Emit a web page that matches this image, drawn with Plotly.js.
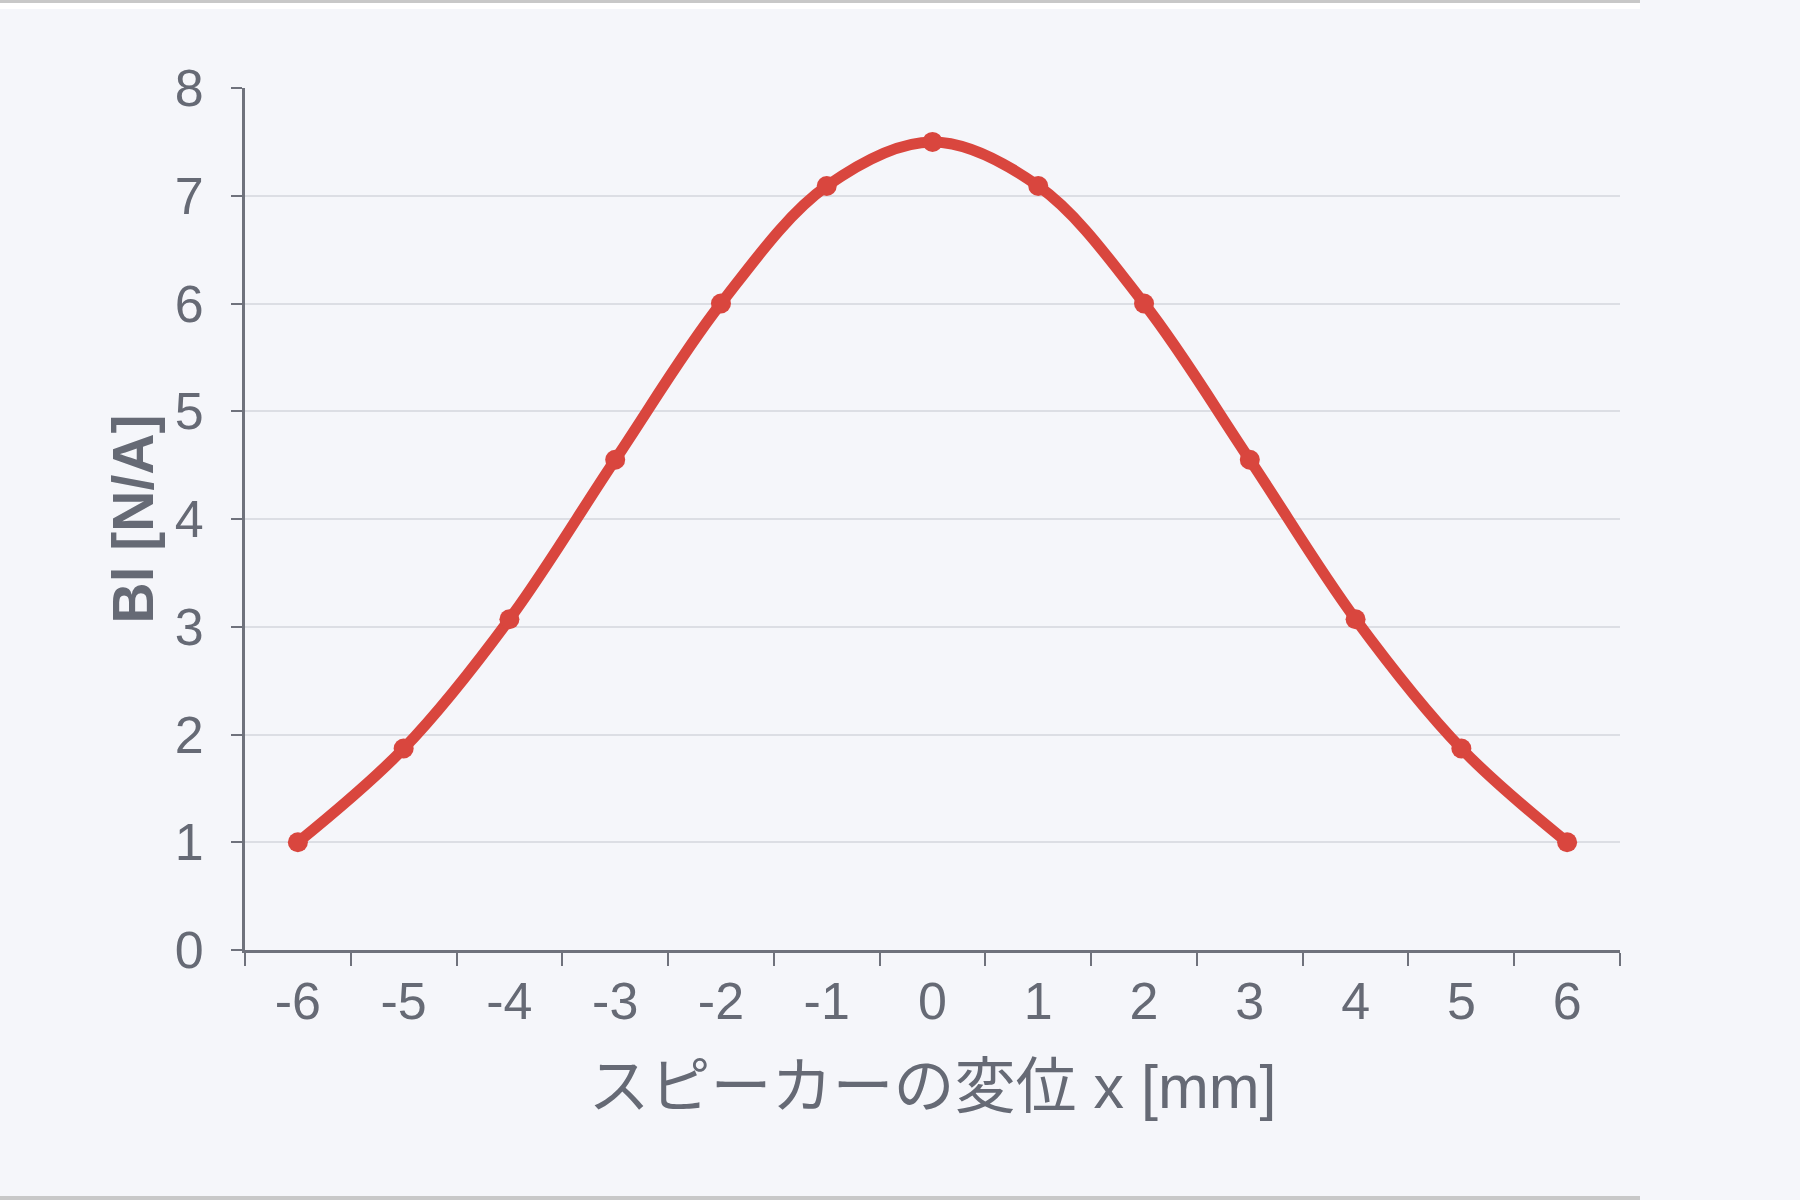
<!DOCTYPE html>
<html>
<head>
<meta charset="utf-8">
<script src="https://cdn.plot.ly/plotly-3.0.1.min.js"></script>
<style>
  html, body { margin: 0; padding: 0; background: #f5f6fa; }
  #chart { width: 1800px; height: 1200px; }
</style>
</head>
<body>
<div id="chart"></div>
<script>
const displacement = ['-6', '-5', '-4', '-3', '-2', '-1', '0', '1', '2', '3', '4', '5', '6'];
const blValues = [1.0, 1.87, 3.07, 4.55, 6.0, 7.09, 7.5, 7.09, 6.0, 4.55, 3.07, 1.87, 1.0];
const yTicks = [0, 1, 2, 3, 4, 5, 6, 7, 8];

const xTitle = 'スピーカーの変位 x [mm]';
const yTitle = 'Bl [N/A]';

const axisColor = '#6f727c';
const textColor = '#666a75';
const gridColor = '#dcdee4';
const lineColor = '#d9463e';
const fontFamily = '"Liberation Sans", Arial, "Noto Sans CJK JP", sans-serif';

const trace = {
  x: displacement,
  y: blValues,
  type: 'scatter',
  mode: 'lines+markers',
  line: { color: lineColor, width: 11, shape: 'spline', smoothing: 1.0 },
  marker: { color: lineColor, size: 20 },
  hoverinfo: 'x+y'
};

const L = 245, R = 1620, T = 88, B = 950;
const W = R - L, H = B - T;
function px(x) { return (x - L) / W; }
function py(y) { return (B - y) / H; }

const layout = {
  width: 1800,
  height: 1200,
  margin: { l: L, r: 1800 - R, t: T, b: 1200 - B, pad: 0 },
  paper_bgcolor: '#f5f6fa',
  plot_bgcolor: '#f5f6fa',
  showlegend: false,
  font: { family: fontFamily, color: textColor, size: 52 },
  xaxis: {
    type: 'category',
    range: [-0.5, 12.5],
    tickson: 'boundaries',
    ticks: 'outside',
    ticklen: 13,
    tickwidth: 2,
    tickcolor: axisColor,
    showline: true,
    linecolor: axisColor,
    linewidth: 3,
    showgrid: false,
    zeroline: false,
    ticklabelstandoff: 4,
    tickfont: { family: fontFamily, size: 52, color: textColor },
    title: { text: xTitle, font: { family: fontFamily, size: 61, color: textColor }, standoff: 36 },
    fixedrange: true
  },
  yaxis: {
    range: [0, 8],
    tickvals: yTicks,
    ticktext: yTicks.map(String),
    ticks: 'outside',
    ticklen: 11,
    tickwidth: 2,
    tickcolor: axisColor,
    showline: true,
    linecolor: axisColor,
    linewidth: 3,
    showgrid: true,
    gridcolor: gridColor,
    gridwidth: 2,
    zeroline: false,
    ticklabelstandoff: 17,
    tickfont: { family: fontFamily, size: 52, color: textColor },
    title: { text: '<b>' + yTitle + '</b>', font: { family: fontFamily, size: 57, color: textColor }, standoff: 3 },
    fixedrange: true
  },
  shapes: [
    { type: 'rect', xref: 'paper', yref: 'paper', x0: px(0), x1: px(1640), y0: py(0), y1: py(3),
      fillcolor: '#c8c8c8', line: { width: 0 }, layer: 'below' },
    { type: 'rect', xref: 'paper', yref: 'paper', x0: px(0), x1: px(1640), y0: py(3), y1: py(9),
      fillcolor: '#ffffff', line: { width: 0 }, layer: 'below' },
    { type: 'rect', xref: 'paper', yref: 'paper', x0: px(0), x1: px(1640), y0: py(1196), y1: py(1200),
      fillcolor: '#c8c8c8', line: { width: 0 }, layer: 'below' }
  ]
};

Plotly.newPlot('chart', [trace], layout, { displayModeBar: false, staticPlot: true });
</script>
</body>
</html>
